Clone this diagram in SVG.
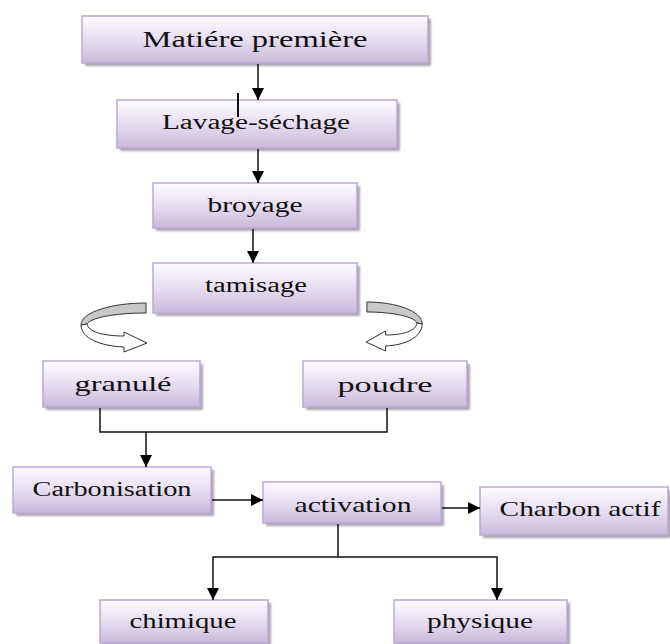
<svg xmlns="http://www.w3.org/2000/svg" width="670" height="644" viewBox="0 0 670 644">
<defs>
<linearGradient id="g" x1="0" y1="0" x2="0" y2="1">
<stop offset="0" stop-color="#fdfcff"/>
<stop offset="0.5" stop-color="#e6def0"/>
<stop offset="1" stop-color="#c9b9da"/>
</linearGradient>
<filter id="blur" x="-10%" y="-20%" width="120%" height="140%"><feGaussianBlur stdDeviation="1.2"/></filter>
<marker id="ah" viewBox="0 0 12 12" refX="12" refY="6" markerWidth="12" markerHeight="12" markerUnits="userSpaceOnUse" orient="auto">
<path d="M0,0 L12,6 L0,12 Z" fill="#000"/>
</marker>
</defs>
<style>
.sh{fill:#9b95a3;filter:url(#blur);opacity:0.85}
.bx{fill:url(#g);stroke:#bba9d2;stroke-width:1.5}
.t{font-family:"Liberation Serif","Times New Roman",serif;fill:#111;text-anchor:middle}
.c{fill:none;stroke:#111;stroke-width:1.5}
.a{fill:none;stroke:#111;stroke-width:1.5;marker-end:url(#ah)}
.cg{fill:#c8c8c8;stroke:#333;stroke-width:1}
.cw{fill:#fff;stroke:#333;stroke-width:1}
</style>

<g id="curve-left">
<path class="cg" d="M146,303 C112,303 81,312 81,325 L87,324 C90,318 114,313 146,313 Z"/>
<path class="cw" d="M81,325 C81,338 100,346 124,347 L124,352 L147,343 L124,332 L124,336 C104,336 88,332 87,324 Z"/>
</g>
<g id="curve-right" transform="matrix(-0.85,0,0,1,491,-1)">
<path class="cg" d="M146,303 C112,303 81,312 81,325 L87,324 C90,318 114,313 146,313 Z" vector-effect="non-scaling-stroke"/>
<path class="cw" d="M81,325 C81,338 100,346 124,347 L124,352 L147,343 L124,332 L124,336 C104,336 88,332 87,324 Z" vector-effect="non-scaling-stroke"/>
</g>

<g id="n-matiere">
<rect class="sh" x="85" y="19" width="346" height="47"/>
<rect class="bx" x="82" y="16" width="346" height="47"/>
<text class="t" x="255" y="47" font-size="24" textLength="225" lengthAdjust="spacingAndGlyphs">Matiére première</text>
</g>
<g id="n-lavage">
<rect class="sh" x="120" y="103" width="280" height="48"/>
<rect class="bx" x="117" y="100" width="280" height="48"/>
<text class="t" x="256" y="129" font-size="20" textLength="188" lengthAdjust="spacingAndGlyphs">Lavage-séchage</text>
</g>
<g id="n-broyage">
<rect class="sh" x="156" y="186" width="204" height="45"/>
<rect class="bx" x="153" y="183" width="204" height="45"/>
<text class="t" x="255" y="212" font-size="20" textLength="95" lengthAdjust="spacingAndGlyphs">broyage</text>
</g>
<g id="n-tamisage">
<rect class="sh" x="156" y="266" width="204" height="50"/>
<rect class="bx" x="153" y="263" width="204" height="50"/>
<text class="t" x="256" y="292" font-size="20" textLength="102" lengthAdjust="spacingAndGlyphs">tamisage</text>
</g>
<g id="n-granule">
<rect class="sh" x="46" y="364" width="157" height="46"/>
<rect class="bx" x="43" y="361" width="157" height="46"/>
<text class="t" x="123" y="391" font-size="21" textLength="97" lengthAdjust="spacingAndGlyphs">granulé</text>
</g>
<g id="n-poudre">
<rect class="sh" x="306" y="364" width="164" height="46"/>
<rect class="bx" x="303" y="361" width="164" height="46"/>
<text class="t" x="385" y="392" font-size="21" textLength="95" lengthAdjust="spacingAndGlyphs">poudre</text>
</g>
<g id="n-carbonisation">
<rect class="sh" x="16" y="470" width="198" height="46"/>
<rect class="bx" x="13" y="467" width="198" height="46"/>
<text class="t" x="112" y="496" font-size="20" textLength="159" lengthAdjust="spacingAndGlyphs">Carbonisation</text>
</g>
<g id="n-activation">
<rect class="sh" x="266" y="485" width="178" height="41"/>
<rect class="bx" x="263" y="482" width="178" height="41"/>
<text class="t" x="353" y="512" font-size="21" textLength="117" lengthAdjust="spacingAndGlyphs">activation</text>
</g>
<g id="n-charbon">
<rect class="sh" x="483" y="490" width="188" height="48"/>
<rect class="bx" x="480" y="487" width="188" height="48"/>
<text class="t" x="580" y="516" font-size="22" textLength="161" lengthAdjust="spacingAndGlyphs">Charbon actif</text>
</g>
<g id="n-chimique">
<rect class="sh" x="103" y="603" width="168" height="44"/>
<rect class="bx" x="100" y="600" width="168" height="43"/>
<text class="t" x="183" y="628" font-size="20" textLength="107" lengthAdjust="spacingAndGlyphs">chimique</text>
</g>
<g id="n-physique">
<rect class="sh" x="397" y="603" width="173" height="44"/>
<rect class="bx" x="394" y="600" width="173" height="43"/>
<text class="t" x="480" y="628" font-size="20" textLength="106" lengthAdjust="spacingAndGlyphs">physique</text>
</g>

<g id="connectors">
<path class="a" d="M258,64 V100"/>
<path d="M238,93 V117" stroke="#111" stroke-width="2" fill="none"/>
<path class="a" d="M258,149 V183"/>
<path class="a" d="M253,229 V263"/>
<path class="c" d="M100,408 V432 H387 V408"/>
<path class="a" d="M146,432 V467"/>
<path class="a" d="M212,500 H263"/>
<path class="a" d="M442,508 H480"/>
<path class="c" d="M338,524 V557"/>
<path class="a" d="M338,557 H213 V600"/>
<path class="a" d="M338,557 H497 V600"/>
</g>
</svg>
